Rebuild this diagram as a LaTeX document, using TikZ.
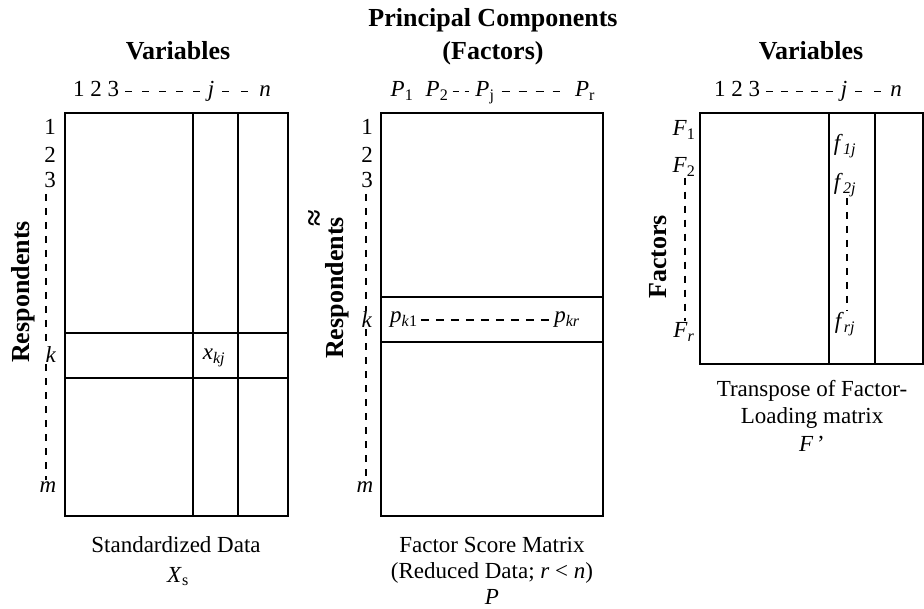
\documentclass[tikz,border=0pt]{standalone}
\usepackage{fontspec}
\setmainfont{Liberation Serif}
\usepackage{tikz}
\usetikzlibrary{arrows.meta, positioning}
\usetikzlibrary{calc}

\newcommand{\ivar}[2]{\textit{#1}\textsubscript{#2}}

\begin{document}
\begin{tikzpicture}[x=1pt, y=-1pt,
    lab/.style={font=\fontsize{23}{27}\selectfont, inner sep=1pt},
    ttl/.style={font=\fontsize{26}{30}\selectfont\bfseries, inner sep=1pt},
    mat/.style={draw, line width=1.3pt},
    dashline/.style={line width=1.3pt, dash pattern=on 7pt off 7pt},
    hdash/.style 2 args={line width=1.6pt, dash pattern=on #1 off #2}]
        \useasboundingbox (0,0) rectangle (924,609);

        % titles
        \node[ttl, anchor=base] (tv1) at (178,60) {Variables};
        \node[ttl, anchor=base] (tpc) at (493,27) {Principal Components};
        \node[ttl, anchor=base] (tfa) at (493,60) {(Factors)};
        \node[ttl, anchor=base] (tv2) at (811,60) {Variables};

        % standardized data matrix
        \draw[mat] (65,113) rectangle (288,516);
        \draw[mat] (193,113) -- (193,516);
        \draw[mat] (238,113) -- (238,516);
        \draw[mat] (65,333) -- (288,333);
        \draw[mat] (65,378) -- (288,378);

        % factor score matrix
        \draw[mat] (381,113) rectangle (603,516);
        \draw[mat] (381,297) -- (603,297);
        \draw[mat] (381,342) -- (603,342);

        % factor loading matrix (transposed)
        \draw[mat] (700,113) rectangle (923,364);
        \draw[mat] (829,113) -- (829,364);
        \draw[mat] (875,113) -- (875,364);

        % column labels, left
        \node[lab, anchor=base west] (a123) at (72,97) {1 2 3};
        \node[lab, anchor=base] (aj) at (211,97) {\textit{j}};
        \node[lab, anchor=base] (an) at (265,97) {\textit{n}};
        \draw[hdash={7pt}{10pt}] ($(a123.base east)+(5,-5.5)$) -- ($(aj.base west)+(-6,-5.5)$);
        \draw[hdash={7pt}{12pt}] ($(aj.base east)+(7,-5.5)$) -- ($(an.base west)+(-10,-5.5)$);

        % column labels, middle
        \node[lab, anchor=base] (p1) at (402,97) {\ivar{P}{1}};
        \node[lab, anchor=base] (p2) at (437,97) {\ivar{P}{2}};
        \node[lab, anchor=base] (pj) at (485,97) {\ivar{P}{j}};
        \node[lab, anchor=base] (pr) at (585,97) {\ivar{P}{r}};
        \draw[hdash={6pt}{6pt}] ($(p2.base east)+(3,-5.5)$) -- ($(pj.base west)+(-5,-5.5)$);
        \draw[hdash={8pt}{9pt}] ($(pj.base east)+(6,-5.5)$) -- ($(pr.base west)+(-14,-5.5)$);

        % column labels, right
        \node[lab, anchor=base west] (b123) at (713,97) {1 2 3};
        \node[lab, anchor=base] (bj) at (844,97) {\textit{j}};
        \node[lab, anchor=base] (bn) at (896,97) {\textit{n}};
        \draw[hdash={7pt}{8pt}] ($(b123.base east)+(5,-5.5)$) -- ($(bj.base west)+(-7,-5.5)$);
        \draw[hdash={7pt}{12pt}] ($(bj.base east)+(7,-5.5)$) -- ($(bn.base west)+(-8,-5.5)$);

        % row labels, left
        \node[lab] (l1) at (50,127) {1};
        \node[lab] (l2) at (50,155) {2};
        \node[lab] (l3) at (50,180) {3};
        \node[lab] (lk) at (51,355) {\textit{k}};
        \node[lab] (lm) at (48,487) {\textit{m}};
        \draw[dashline] ($(l3.south -| 46,0)+(0,5)$) -- (lk.north -| 46,0);
        \draw[dashline] (lk.south -| 46,0) -- (lm.north -| 46,0);
        \node[ttl, rotate=90] (resp1) at (23,292) {Respondents};

        % row labels, middle
        \node[lab] (m1) at (367,127) {1};
        \node[lab] (m2) at (367,155) {2};
        \node[lab] (m3) at (367,180) {3};
        \node[lab] (mk) at (367,320) {\textit{k}};
        \node[lab] (mm) at (365,487) {\textit{m}};
        \draw[dashline] ($(m3.south -| 366,0)+(0,5)$) -- (mk.north -| 366,0);
        \draw[dashline] (mk.south -| 366,0) -- (mm.north -| 366,0);
        \node[ttl, rotate=90] (resp2) at (337,288) {Respondents};
        \node[ttl, rotate=90, font=\fontsize{30}{30}\selectfont\bfseries] (approx) at (317,218) {≈};

        % row labels, right
        \node[lab] (f1) at (684,130) {\ivar{F}{1}};
        \node[lab] (f2) at (684,167) {\ivar{F}{2}};
        \node[lab] (fr) at (684,332) {\ivar{F}{\textit{r}}};
        \draw[dashline] (f2.south -| 685,0) -- (fr.north -| 685,0);
        \node[ttl, rotate=90] (fac) at (658,257) {Factors};

        % elements
        \node[lab] (xkj) at (214,358) {\ivar{x}{\textit{kj}}};
        \node[lab, anchor=west] (pk1) at (389,320) {\ivar{p}{\textit{k}1}};
        \node[lab, anchor=east] (pkr) at (581,320) {\ivar{p}{\textit{kr}}};
        \draw[hdash={8pt}{7pt}] ($(pk1.east)+(2,0)$) -- ($(pkr.west)+(-4,0)$);
        \node[lab] (f1j) at (845,146) {\ivar{f}{\textit{1j}}};
        \node[lab] (f2j) at (845,185) {\ivar{f}{\textit{2j}}};
        \node[lab] (frj) at (845,324) {\ivar{f}{\textit{rj}}};
        \draw[dashline] (f2j.south -| 847,0) -- (frj.north -| 847,0);

        % captions
        \node[lab, anchor=base] (c1a) at (176,552) {Standardized Data};
        \node[lab, anchor=base] (c1b) at (178,582) {\ivar{X}{s}};
        \node[lab, anchor=base] (c2a) at (492,552) {Factor Score Matrix};
        \node[lab, anchor=base] (c2b) at (492,578) {(Reduced Data; \textit{r} < \textit{n})};
        \node[lab, anchor=base] (c2c) at (492,604) {\textit{P}};
        \node[lab, anchor=base] (c3a) at (812,397) {Transpose of Factor-};
        \node[lab, anchor=base] (c3b) at (812,424) {Loading matrix};
        \node[lab, anchor=base] (c3c) at (812,452) {\textit{F}\,'};
    \end{tikzpicture}
\end{document}
